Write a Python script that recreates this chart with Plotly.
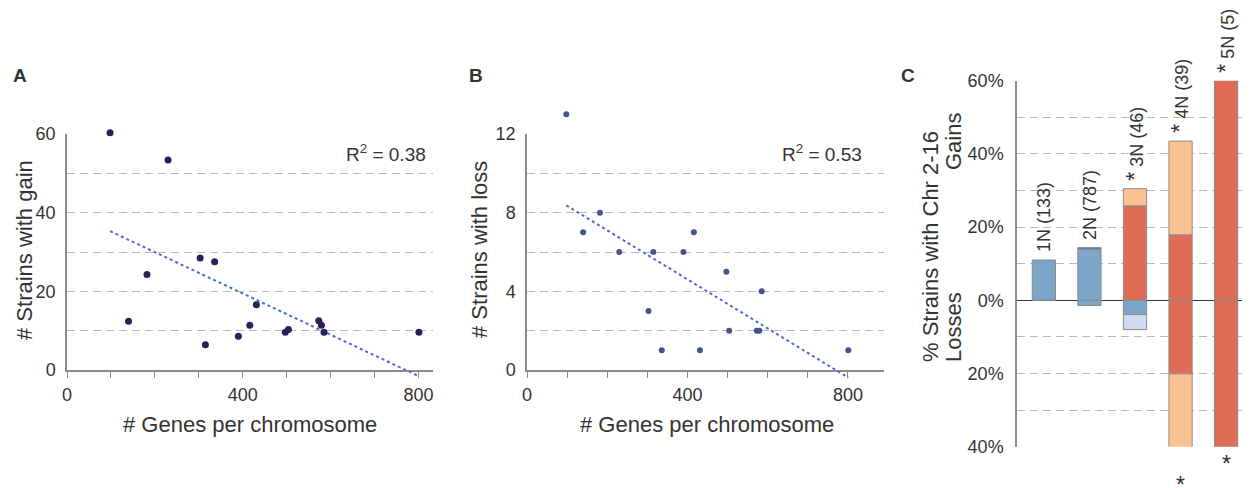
import numpy as np
import plotly.graph_objects as go

W, H = 1250, 488
PAGE_PAD = 8  # the browser's default body margin shifts the plot div
FONT = "Liberation Sans, Arial, Helvetica, sans-serif"
TEXT = "#333333"
AXIS = "#8c8c8c"
GRID = "#b8b8b8"
BLUE = "#7da5c8"
DBLUE = "#4f6f93"
LBLUE = "#cfdbee"
RED = "#e06c55"
PEACH = "#fbc191"

# Panels A/B: one point per chromosome
genes_per_chr = [98, 140, 182, 230, 303, 315, 336, 390, 416, 431, 497, 504, 573, 579, 585, 801]
strains_gain = [60.3, 12.4, 24.3, 53.4, 28.5, 6.4, 27.5, 8.6, 11.4, 16.6, 9.6, 10.3, 12.5, 11.4, 9.6, 9.6]
strains_loss = [13, 7, 8, 6, 3, 6, 1, 6, 7, 1, 5, 2, 2, 2, 4, 1]
r2_gain = "0.38"
r2_loss = "0.53"

# Panel C: % strains with chr 2-16 gains / losses by ploidy
ploidy = ["1N", "2N", "3N", "4N", "5N"]
n_strains = [133, 787, 46, 39, 5]
gain_sig = [False, False, True, True, True]
loss_sig = [False, False, False, True, True]
gain_main = [11.0, 14.0, 25.8, 17.9, 60.0]
gain_top = [0.0, 0.4, 4.7, 25.6, 0.0]
loss_main = [0.0, 1.4, 3.9, 20.1, 40.0]
loss_bottom = [0.0, 0.0, 4.1, 25.6, 0.0]
gain_main_colors = [BLUE, BLUE, RED, RED, RED]
gain_top_colors = [DBLUE, DBLUE, PEACH, PEACH, PEACH]
loss_main_colors = [BLUE, BLUE, BLUE, RED, RED]
loss_bottom_colors = [LBLUE, LBLUE, LBLUE, PEACH, PEACH]
c_ticks = [-40, -20, 0, 20, 40, 60]
c_ticktext = ["40%", "20%", "0%", "20%", "40%", "60%"]
c_range = [-40, 60]


def px_x(px):
    return (px - PAGE_PAD) / W


def px_y(py):
    return 1 - (py - PAGE_PAD) / H


def hide(v):
    return [None if a == 0 else a for a in v]


fig = go.Figure()

# ---- scatter panels ----
# marks go on hidden overlay axes that reach a little past the visible frame,
# so the top point and the end of the trend line are not cut off
panels = [
    ("x", "y", "x4", "y4", strains_gain, 60, 20, (67, 433), 833, "#23235a", 7),
    ("x2", "y2", "x5", "y5", strains_loss, 12, 4, (527, 884), 890, "#46548a", 6),
]
y_dom_px = (134, 370)
ext_bot, ext_top = 14, 28

for xa, ya, txa, tya, yv, ymax, dt, xdom, xmax, mcol, msize in panels:
    # empty trace so the visible frame gets drawn
    fig.add_trace(go.Scatter(x=[None], y=[None], xaxis=xa, yaxis=ya,
                             mode="markers", hoverinfo="skip"))
    slope, icpt = np.polyfit(genes_per_chr, yv, 1)
    fx = [min(genes_per_chr), max(genes_per_chr)]
    fig.add_trace(go.Scatter(
        x=fx, y=[slope * v + icpt for v in fx], mode="lines", xaxis=txa, yaxis=tya,
        line={"color": "#4a6bd0", "width": 2, "dash": "dot"},
    ))
    fig.add_trace(go.Scatter(
        x=genes_per_chr, y=yv, mode="markers", xaxis=txa, yaxis=tya,
        marker={"color": mcol, "size": msize}, cliponaxis=False,
    ))
    upp = ymax / (y_dom_px[1] - y_dom_px[0])
    xd = [px_x(xdom[0]), px_x(xdom[1])]
    yd = [px_y(y_dom_px[1]), px_y(y_dom_px[0])]
    ydx = [px_y(y_dom_px[1] + ext_bot), px_y(y_dom_px[0] - ext_top)]
    fig.update_layout({
        ("xaxis" if xa == "x" else "xaxis2"): dict(
            domain=xd, range=[0, xmax], anchor=ya, showgrid=False, zeroline=False,
            showline=True, linecolor=AXIS, linewidth=1.5,
            tickmode="linear", tick0=0, dtick=400, ticks="outside", ticklen=6,
            tickcolor=AXIS, tickwidth=1.2, ticklabelstandoff=2,
            minor=dict(tickmode="linear", tick0=0, dtick=100, ticks="outside",
                       ticklen=6, tickcolor=AXIS, tickwidth=1.2),
            tickfont=dict(size=18, color=TEXT),
        ),
        ("yaxis" if ya == "y" else "yaxis2"): dict(
            domain=yd, range=[0, ymax], anchor=xa, zeroline=False,
            showline=True, linecolor=AXIS, linewidth=1.5,
            tickmode="linear", tick0=0, dtick=dt, ticks="", ticklabelstandoff=6,
            showgrid=True, gridcolor=GRID, griddash="8px,5px", gridwidth=1,
            minor=dict(tickmode="linear", tick0=0, dtick=dt / 2, showgrid=True,
                       gridcolor=GRID, griddash="8px,5px", gridwidth=1),
            tickfont=dict(size=18, color=TEXT),
        ),
        ("xaxis4" if txa == "x4" else "xaxis5"): dict(
            domain=xd, range=[0, xmax], anchor=tya, visible=False),
        ("yaxis4" if tya == "y4" else "yaxis5"): dict(
            domain=ydx, range=[-ext_bot * upp, ymax + ext_top * upp], anchor=txa,
            visible=False),
    })

# ---- panel C bars ----
xpos = list(range(len(ploidy)))
for vals, cols, sign in [
    (gain_main, gain_main_colors, 1),
    (gain_top, gain_top_colors, 1),
    (loss_main, loss_main_colors, -1),
    (loss_bottom, loss_bottom_colors, -1),
]:
    fig.add_trace(go.Bar(
        x=xpos, y=[None if v is None else sign * v for v in hide(vals)],
        xaxis="x3", yaxis="y3", width=0.51,
        marker={"color": cols, "line": {"color": "#8a8a8a", "width": 1}},
    ))

c_dom = [px_y(446.7), px_y(80.7)]
fig.update_layout(
    xaxis3=dict(domain=[px_x(1017), 1.0], range=[-0.59, 4.7], anchor="y3",
                visible=False),
    yaxis3=dict(
        domain=c_dom, range=c_range, anchor="x3",
        tickmode="array", tickvals=c_ticks, ticktext=c_ticktext,
        showline=True, linecolor=AXIS, linewidth=1.5, ticks="", ticklabelstandoff=8,
        showgrid=True, gridcolor=GRID, griddash="8px,5px", gridwidth=1,
        zeroline=True, zerolinecolor="#333333", zerolinewidth=1.2,
        minor=dict(tickmode="linear", tick0=0, dtick=10, showgrid=True,
                   gridcolor=GRID, griddash="8px,5px", gridwidth=1),
        tickfont=dict(size=18, color=TEXT),
    ),
    barmode="relative",
)


def c_paper(v):
    # y value of panel C as a paper fraction (annotations outside the range stay visible)
    return c_dom[0] + (v - c_range[0]) / (c_range[1] - c_range[0]) * (c_dom[1] - c_dom[0])


STAR = "<span style='font-size:23px'>*</span>"
ann = []
for i, p in enumerate(ploidy):
    label = (STAR + " " if gain_sig[i] else "") + f"{p} ({n_strains[i]})"
    ann.append(dict(
        x=xpos[i], y=c_paper(gain_main[i] + gain_top[i]), xref="x3", yref="paper",
        text=label, textangle=-90, showarrow=False, xanchor="center",
        yanchor="bottom", yshift=6, font=dict(size=18, color=TEXT),
    ))
    if loss_sig[i]:
        ann.append(dict(
            x=xpos[i], y=c_paper(-(loss_main[i] + loss_bottom[i])), xref="x3",
            yref="paper", text="*", showarrow=False, xanchor="center",
            yanchor="top", yshift=-2, font=dict(size=23, color=TEXT),
        ))

# titles, panel letters and R² notes, placed by pixel position
texts = [
    ("A", 20, 75, 0, 19, True),
    ("B", 476, 75, 0, 19, True),
    ("C", 908, 75, 0, 19, True),
    ("# Strains with gain", 24, 250, -90, 22, False),
    ("# Genes per chromosome", 250, 424, 0, 22, False),
    ("# Strains with loss", 479, 250, -90, 22, False),
    ("# Genes per chromosome", 707, 424, 0, 22, False),
    ("% Strains with Chr 2-16", 930, 247, -90, 22, False),
    ("Gains", 953, 142, -90, 22, False),
    ("Losses", 953, 327, -90, 22, False),
]
for t, x, y, ang, size, bold in texts:
    ann.append(dict(
        x=px_x(x), y=px_y(y), xref="paper", yref="paper", text=f"<b>{t}</b>" if bold else t,
        textangle=ang, showarrow=False, xanchor="center", yanchor="middle",
        font=dict(size=size, color=TEXT),
    ))
for r2, xr in [(r2_gain, 428), (r2_loss, 864)]:
    ann.append(dict(
        x=px_x(xr), y=px_y(153), xref="paper", yref="paper",
        text=f"R<sup>2</sup> = {r2}", showarrow=False, xanchor="right",
        yanchor="middle", font=dict(size=19, color=TEXT),
    ))

fig.update_layout(
    width=W, height=H, margin=dict(l=0, r=0, t=0, b=0, autoexpand=False),
    paper_bgcolor="white", plot_bgcolor="rgba(0,0,0,0)",
    showlegend=False, font=dict(family=FONT, color=TEXT),
    annotations=ann,
)

fig.write_html("out.html")
